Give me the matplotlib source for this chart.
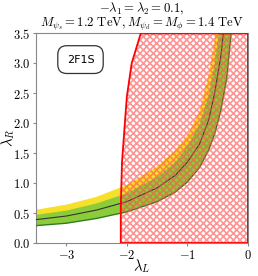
import numpy as np
import matplotlib
matplotlib.use('Agg')
import matplotlib.pyplot as plt
from matplotlib.patches import Polygon

plt.rcParams['mathtext.fontset'] = 'cm'
plt.rcParams['font.family'] = 'DejaVu Serif'
plt.rcParams['axes.formatter.use_mathtext'] = True
plt.rcParams['hatch.linewidth'] = 1.2

# band values
lam_L = [-3.5, -3.0, -2.5, -2.0, -1.5, -1.2, -1.0, -0.8, -0.65, -0.55, -0.45, -0.35, -0.25]
center = [0.39, 0.45, 0.55, 0.69, 0.92, 1.13, 1.35, 1.65, 2.05, 2.5, 3.1, 4.0, 5.6]
green_hi = [0.47, 0.54, 0.66, 0.83, 1.10, 1.35, 1.62, 1.98, 2.46, 3.0, 3.72, 4.8, 6.7]
green_lo = [0.29, 0.33, 0.41, 0.52, 0.69, 0.85, 1.02, 1.26, 1.55, 1.82, 2.20, 2.75, 3.8]
yellow_hi = [0.555, 0.64, 0.77, 0.97, 1.28, 1.55, 1.80, 2.20, 2.80, 3.40, 4.3, 5.5, 7.8]

# excluded region boundary
excl_L = [-2.10, -2.10, -2.08, -2.04, -2.00, -1.92, -1.77]
excl_R = [0.0, 0.6, 1.34, 1.9, 2.44, 3.0, 3.5]

xticks = [-3, -2, -1, 0]
yticks = [0.0, 0.5, 1.0, 1.5, 2.0, 2.5, 3.0, 3.5]

fig = plt.figure(figsize=(2.58, 2.76), dpi=100)
ax = fig.add_axes([0.1395, 0.1196, 0.8215, 0.7594])

ax.fill_between(lam_L, green_lo, yellow_hi, color='#f7e02a', lw=0, zorder=1)
ax.fill_between(lam_L, green_lo, green_hi, color='#8ccc3a', lw=0, zorder=2)
ax.plot(lam_L, green_lo, color='#2f7d1e', lw=1.0, zorder=3)
ax.plot(lam_L, center, color='#333333', lw=0.8, zorder=3)

verts = list(zip(excl_L, excl_R)) + [(0.0, 3.5), (0.0, 0.0)]
hatch = Polygon(verts, closed=True, facecolor='none', edgecolor=(1, 0.3, 0.3, 0.6),
                hatch='xxxxx', lw=0, zorder=4)
ax.add_patch(hatch)
outline = Polygon(verts, closed=True, facecolor='none', edgecolor='red', lw=1.3, zorder=5)
ax.add_patch(outline)

ax.set_xlim(-3.5, 0)
ax.set_ylim(0, 3.5)
ax.set_xticks(xticks)
ax.set_yticks(yticks)
ax.set_xticklabels(['$-3$', '$-2$', '$-1$', '$0$'])
ax.set_yticklabels(['$%.1f$' % v for v in yticks])
ax.tick_params(labelsize=9, color='#888888', length=2, width=0.8, pad=2)
for s in ax.spines.values():
    s.set_color('#888888')
    s.set_linewidth(0.8)

ax.set_xlabel(r'$\lambda_L$', fontsize=10.5)
ax.set_ylabel(r'$\lambda_R$', fontsize=10.5)
ax.xaxis.set_label_coords(0.5, -0.07)
ax.yaxis.set_label_coords(-0.09, 0.5)
ax.set_title(r'$-\lambda_1=\lambda_2=0.1,$' + '\n' +
             r'$M_{\psi_s}=1.2\ \mathrm{TeV}, M_{\psi_d}=M_{\phi}=1.4\ \mathrm{TeV}$',
             fontsize=9.2, pad=1, linespacing=0.95)

ax.text(0.21, 0.875, '2F1S', transform=ax.transAxes, ha='center', va='center',
        fontsize=8, family='DejaVu Sans',
        bbox=dict(boxstyle='round,pad=0.8,rounding_size=0.8', fc='white', ec='#333333', lw=0.9))

fig.savefig('out.png', dpi=100)
